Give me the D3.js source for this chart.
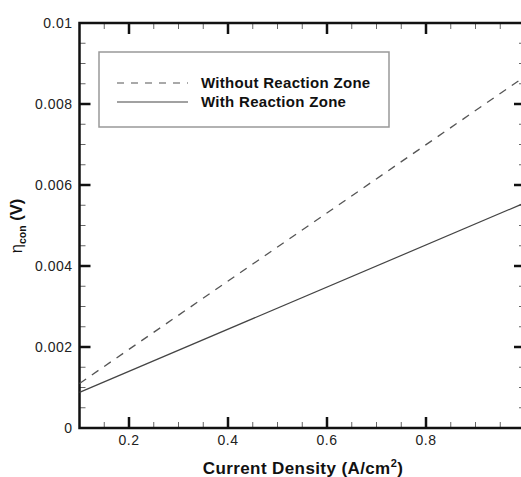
<!DOCTYPE html>
<html>
<head>
<meta charset="utf-8">
<script src="https://cdn.jsdelivr.net/npm/d3@7/dist/d3.min.js"></script>
<style>
  html, body { margin: 0; padding: 0; background: #fff; }
  svg { display: block; font-family: "Liberation Sans", Arial, Helvetica, sans-serif; }
</style>
</head>
<body>
<svg id="chart" width="521" height="477"></svg>
<script>
// Current density (A/cm^2) at the ends of each straight line
const currentDensity = [0.1, 1.0];
// Concentration overpotential (V)
const withoutReactionZone = [0.00110, 0.00868];
const withReactionZone = [0.00088, 0.00556];

const seriesNames = ["Without Reaction Zone", "With Reaction Zone"];
const xMajorTicks = [0.2, 0.4, 0.6, 0.8];
const yMajorTicks = [0, 0.002, 0.004, 0.006, 0.008, 0.01];
const yTickLabels = ["0", "0.002", "0.004", "0.006", "0.008", "0.01"];

(function () {
  const svg = d3.select("#chart");
  const pLeft = 79.5, pRight = 525, pTop = 23, pBottom = 428;

  const x = d3.scaleLinear().domain([0.1, 1.0]).range([pLeft, pRight]);
  const y = d3.scaleLinear().domain([0, 0.01]).range([pBottom, pTop]);

  const xMinor = d3.range(0.15, 1.0, 0.05).filter(v => !xMajorTicks.some(m => Math.abs(m - v) < 1e-6));
  const yMinor = d3.range(0.0005, 0.01, 0.0005).filter(v => !yMajorTicks.some(m => Math.abs(m - v) < 1e-9));

  const majorLen = 11, minorLen = 6;
  const frame = svg.append("g");

  // minor ticks on all four sides, pointing inward
  const minorStyle = s => s.attr("stroke", "#666").attr("stroke-width", 1);
  xMinor.forEach(v => {
    frame.append("line").attr("x1", x(v)).attr("x2", x(v)).attr("y1", pBottom).attr("y2", pBottom - minorLen).call(minorStyle);
    frame.append("line").attr("x1", x(v)).attr("x2", x(v)).attr("y1", pTop).attr("y2", pTop + minorLen).call(minorStyle);
  });
  yMinor.forEach(v => {
    frame.append("line").attr("x1", pLeft).attr("x2", pLeft + minorLen).attr("y1", y(v)).attr("y2", y(v)).call(minorStyle);
    frame.append("line").attr("x1", pRight).attr("x2", pRight - minorLen).attr("y1", y(v)).attr("y2", y(v)).call(minorStyle);
  });

  // major ticks
  const majorStyle = s => s.attr("stroke", "#111").attr("stroke-width", 2.5);
  xMajorTicks.forEach(v => {
    frame.append("line").attr("x1", x(v)).attr("x2", x(v)).attr("y1", pBottom).attr("y2", pBottom - majorLen).call(majorStyle);
    frame.append("line").attr("x1", x(v)).attr("x2", x(v)).attr("y1", pTop).attr("y2", pTop + majorLen).call(majorStyle);
  });
  yMajorTicks.slice(1, -1).forEach(v => {
    frame.append("line").attr("x1", pLeft).attr("x2", pLeft + majorLen).attr("y1", y(v)).attr("y2", y(v)).call(majorStyle);
    frame.append("line").attr("x1", pRight).attr("x2", pRight - majorLen).attr("y1", y(v)).attr("y2", y(v)).call(majorStyle);
  });

  // plot frame
  frame.append("rect")
    .attr("x", pLeft).attr("y", pTop)
    .attr("width", pRight - pLeft).attr("height", pBottom - pTop)
    .attr("fill", "none").attr("stroke", "#111").attr("stroke-width", 2.5);

  // tick labels
  const tickFont = s => s.attr("font-size", 14).attr("letter-spacing", 0.5).attr("fill", "#222");
  xMajorTicks.forEach(v => {
    svg.append("text").attr("x", x(v)).attr("y", pBottom + 17)
      .attr("text-anchor", "middle").text(d3.format(".1f")(v)).call(tickFont);
  });
  yMajorTicks.forEach((v, i) => {
    svg.append("text").attr("x", pLeft - 7).attr("y", y(v) + 5)
      .attr("text-anchor", "end").text(yTickLabels[i]).call(tickFont);
  });

  // data lines
  const pts = vals => currentDensity.map((c, i) => [c, vals[i]]);
  const line = d3.line().x(d => x(d[0])).y(d => y(d[1]));

  const plot = svg.append("g");
  plot.append("path").datum(pts(withoutReactionZone)).attr("d", line)
    .attr("fill", "none").attr("stroke", "#555").attr("stroke-width", 1.3)
    .attr("stroke-dasharray", "8,7");
  plot.append("path").datum(pts(withReactionZone)).attr("d", line)
    .attr("fill", "none").attr("stroke", "#444").attr("stroke-width", 1.2);

  // legend
  const lg = svg.append("g");
  lg.append("rect").attr("x", 99).attr("y", 52).attr("width", 290).attr("height", 75)
    .attr("fill", "#fff").attr("stroke", "#999").attr("stroke-width", 1.5);
  const legendRows = [
    { name: seriesNames[0], y: 83, dash: "7,7", color: "#555" },
    { name: seriesNames[1], y: 102, dash: null, color: "#444" }
  ];
  legendRows.forEach(r => {
    lg.append("line").attr("x1", 117).attr("x2", 188).attr("y1", r.y).attr("y2", r.y)
      .attr("stroke", r.color).attr("stroke-width", 1.2)
      .attr("stroke-dasharray", r.dash);
    lg.append("text").attr("x", 201).attr("y", r.y + 5)
      .attr("font-size", 15).attr("letter-spacing", 0.3).attr("font-weight", "bold").attr("fill", "#111")
      .text(r.name);
  });

  // x axis title
  const xt = svg.append("text").attr("x", 303).attr("y", 474)
    .attr("text-anchor", "middle").attr("font-size", 17).attr("letter-spacing", 0.4)
    .attr("font-weight", "bold").attr("fill", "#111");
  xt.append("tspan").text("Current Density (A/cm");
  xt.append("tspan").attr("dy", -7).attr("font-size", 11).text("2");
  xt.append("tspan").attr("dy", 7).text(")");

  // y axis title
  const yt = svg.append("text").attr("transform", "translate(22,226) rotate(-90)")
    .attr("text-anchor", "middle").attr("font-size", 16.5).attr("fill", "#111");
  yt.append("tspan").text("η");
  yt.append("tspan").attr("dy", 4).attr("font-size", 10.5).attr("font-weight", "bold").text("con");
  yt.append("tspan").attr("dy", -4).attr("font-weight", "bold").text(" (V)");
})();
</script>
</body>
</html>
